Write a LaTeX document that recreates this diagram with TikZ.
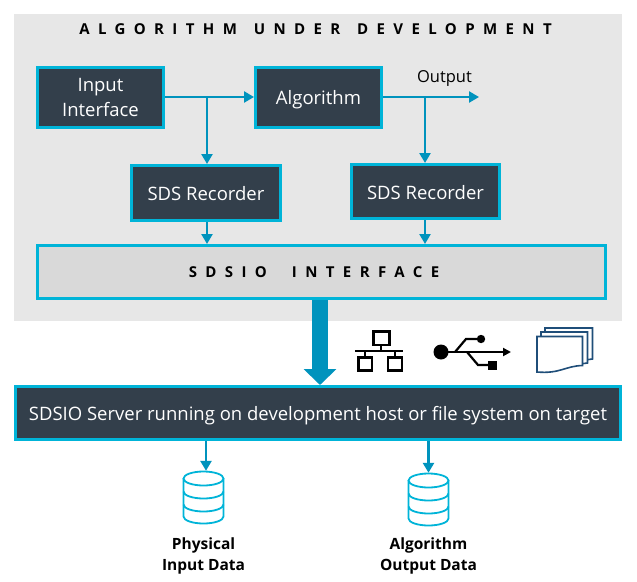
\documentclass[tikz,border=0pt]{standalone}
\usepackage{fontspec}
\setmainfont{Open Sans}
\newfontfamily\spacedfont[LetterSpace=56]{Open Sans}
\usetikzlibrary{positioning}
\usetikzlibrary{arrows.meta}
\usetikzlibrary{calc}
\definecolor{boxdark}{HTML}{333F4B}
\definecolor{boxedge}{HTML}{00B4D8}
\definecolor{flowblue}{HTML}{0093BD}
\definecolor{panelgray}{HTML}{E7E7E7}
\definecolor{ifacegray}{HTML}{D9D9D9}
\definecolor{pageblue}{HTML}{1F4E79}
\tikzstyle{block} = [draw=boxedge, fill=boxdark, text=white, line width=3pt, align=center,
font=\fontsize{18.5}{25}\selectfont, inner sep=0pt]
\tikzstyle{oneline} = [text height=17pt, text depth=2pt]
\tikzstyle{flow} = [draw=flowblue, line width=2.6pt, -{Triangle[width=11pt,length=10pt]}]
\tikzstyle{bigflow} = [draw=flowblue, line width=16pt, -{Triangle[width=32pt,length=16pt]}]
\tikzstyle{spaced} = [font=\fontsize{15}{18}\spacedfont\bfseries]
\tikzstyle{dblabel} = [align=center, font=\fontsize{15.5}{21}\bfseries\selectfont]
\tikzstyle{dbspot} = [minimum width=41pt, minimum height=53pt, inner sep=0pt]
\tikzstyle{dbline} = [draw=boxedge, line width=1.8pt, fill=white]
\tikzstyle{icon} = [draw=black, line width=2.2pt]
\newcommand{\dbstack}[1]{
  \begin{scope}[shift={(#1)}]
    \path [dbline] (-20,-19) -- (-20,19) arc[x radius=20, y radius=-7, start angle=180, end angle=360] -- (20,-19);
    \path [dbline] (0,-19) ellipse[x radius=20, y radius=7];
    \path [dbline, fill=none] (-20,-6) arc[x radius=20, y radius=-7, start angle=180, end angle=360];
    \path [dbline, fill=none] (-20,7) arc[x radius=20, y radius=-7, start angle=180, end angle=360];
  \end{scope}
}
\begin{document}
\begin{tikzpicture}[x=1pt, y=-1pt]
      \useasboundingbox (0,0) rectangle (637,581);
      \node [fill=panelgray, minimum width=608pt, minimum height=307pt, inner sep=0pt] (panel) at (318,167.5) {};
      \node [spaced] (title) at (315.5,29) {ALGORITHM\hspace{4.5pt} UNDER\hspace{4.5pt} DEVELOPMENT};
      \node [block, minimum width=126pt, minimum height=60pt] (input) at (100.5,97) {Input\\Interface};
      \node [block, oneline, minimum width=126pt, minimum height=60pt] (algo) at (318.5,97) {Algorithm};
      \node [block, oneline, minimum width=149pt, minimum height=55pt] (recA) at (206,193) {SDS Recorder};
      \node [block, oneline, minimum width=148pt, minimum height=54pt] (recB) at (425.5,191.5) {SDS Recorder};
      \node [block, draw=boxedge, fill=ifacegray, text=black, minimum width=568pt, minimum height=53pt, spaced] (iface) at (321.5,272) {SDSIO\hspace{25pt}INTERFACE\hspace*{15pt}};
      \node [block, oneline, minimum width=605pt, minimum height=53pt] (server) at (318,413) {SDSIO Server running on development host or file system on target};
      \node [dbspot] (dbin) at (203.5,497.5) {};
      \node [dbspot] (dbout) at (428.5,499.5) {};
      \node [dblabel, below=10pt of dbin] (inlabel) {Physical\\Input Data};
      \node [dblabel, below=8pt of dbout] (outlabel) {Algorithm\\Output Data};
      \coordinate (splitA) at (207,97);
      \coordinate (splitB) at (425,97);
      \coordinate (outend) at (479,97);
      \coordinate (bigx) at (320,300);
      \node [font=\fontsize{16.5}{18}\selectfont, inner sep=0pt] (outtext) at (444.5,78) {Output};
      %% Flows
      \path [flow] (input) to (algo);
      \path [flow] (splitA) to (recA.north -| splitA);
      \path [flow] (algo) to (outend);
      \path [flow] (splitB) to (recB.north -| splitB);
      \path [flow] (recA.south -| splitA) to (iface.north -| splitA);
      \path [flow] (recB.south -| splitB) to (iface.north -| splitB);
      \path [bigflow] (iface.south -| bigx) to (server.north -| bigx);
      \path [flow] ($(server.south -| dbin)+(2.5,0)$) to ($(dbin.north)+(2.5,0)$);
      \path [flow] (server.south -| dbout) to (dbout.north);
      %% Databases
      \dbstack{dbin}
      \dbstack{dbout}
      %% Network icon
      \draw [icon] (373.5,331.5) rectangle (389.5,345);
      \draw [icon] (358.5,357.5) rectangle (372,370.5);
      \draw [icon] (388,357.5) rectangle (402,370.5);
      \draw [icon] (355,351) -- (403,351);
      \draw [icon] (381,345) -- (381,351);
      \draw [icon] (365,351) -- (365,357);
      \draw [icon] (395,351) -- (395,357);
      %% USB icon
      \fill (441,352) circle (7.5);
      \draw [icon, -{Triangle[width=8pt,length=8pt]}] (441,352) -- (511,352);
      \draw [icon] (455,352) -- (466,339) -- (480,339);
      \draw [icon] (467,352) -- (478,365) -- (490,365);
      \fill (481,339) circle (4.2);
      \fill (488,361) rectangle (497,369.5);
      %% Pages icon
      \draw [draw=pageblue, line width=1.6pt, fill=white] (545,328) -- (592.5,328) -- (592.5,359) -- (585,360) -- (545,360) -- cycle;
      \draw [draw=pageblue, line width=1.6pt, fill=white] (541,332) -- (587.5,332) -- (587.5,363) -- (580,364) -- (541,364) -- cycle;
      \draw [draw=pageblue, line width=1.6pt, fill=white] (537,336.5) -- (582.5,336.5) -- (582.5,365.5)
        .. controls (565,366) and (560,374) .. (537,372) -- cycle;
    \end{tikzpicture}
\end{document}
